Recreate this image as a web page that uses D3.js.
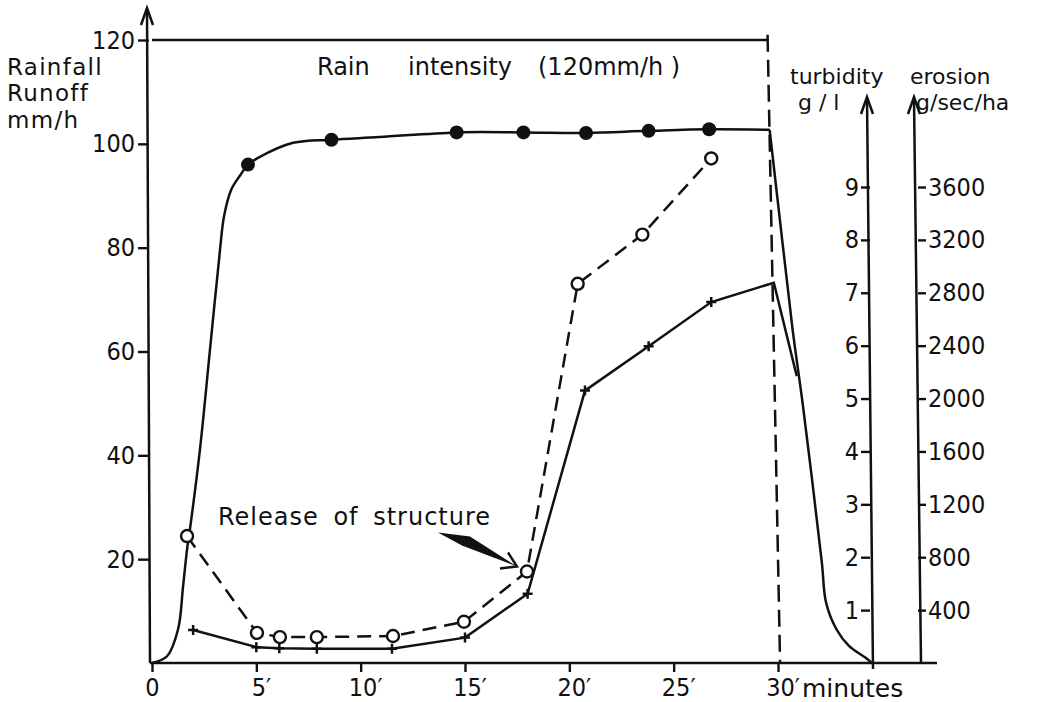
<!DOCTYPE html>
<html>
<head>
<meta charset="utf-8">
<script src="https://cdn.jsdelivr.net/npm/d3@7"></script>
<style>
  body { margin: 0; background: #fff; }
  svg text { font-family: "DejaVu Sans", sans-serif; fill: #111; }
  .tick text { font-family: "DejaVu Sans Condensed", "DejaVu Sans", sans-serif; font-size: 25px; fill: #111; }
  .tick line { stroke: #111; stroke-width: 2.4; }
</style>
</head>
<body>
<svg id="chart"></svg>
<script>
// values (minutes on x)
const rainIntensity = 120;                 // mm/h
const rainTop = [[0, 120], [29.5, 120]];
const rainEdge = [[29.5, 121], [30.1, 0]];

// runoff, mm/h (smooth curve + observed dots); rain stops at the peak point
const runoffCurve = [
  [0, 0], [0.72, 1.3], [1.25, 6.5], [1.49, 14.8], [1.68, 21.9], [1.82, 25.8],
  [2.3, 41.2], [2.78, 60.4], [3.26, 79.6], [3.45, 86], [3.8, 91.2], [4.22, 93.9],
  [4.6, 96], [5.08, 97.3], [6.76, 100.2], [8.6, 100.8], [10.9, 101.3],
  [14.6, 102.2], [17.8, 102.2], [20.8, 102.1], [23.8, 102.5], [26.7, 102.8],
  [29.6, 102.7], [30.2, 81.5], [30.7, 64.2], [31.2, 49.4],
  [32.1, 19.4], [32.3, 11.7], [32.8, 6.5], [33.4, 3.3], [34.2, 1.0], [34.5, 0]
];
const runoffPeakIndex = 22;
const runoffDots = [[4.6, 96], [8.6, 100.8], [14.6, 102.2], [17.8, 102.2], [20.8, 102.1], [23.8, 102.5], [26.7, 102.8]];

// turbidity, g/l (dashed, open circles)
const turbidity = [[1.68, 2.4], [5.03, 0.57], [6.13, 0.49], [7.9, 0.49], [11.55, 0.51],
                   [14.95, 0.78], [17.97, 1.73], [20.4, 7.17], [23.5, 8.1], [26.8, 9.54]];

// erosion, g/sec/ha (solid, crosses); tail points carry no marker
const erosion = [[1.97, 250], [5.0, 120], [6.1, 112], [7.9, 108], [11.5, 108], [15.0, 192],
                 [18.0, 524], [20.75, 2060], [23.8, 2396], [26.8, 2730]];
const erosionTail = [[29.8, 2876], [30.9, 2170]];

const timeTicks = [0, 5, 10, 15, 20, 25, 30];
const mmTicks = [20, 40, 60, 80, 100, 120];
const turbTicks = [1, 2, 3, 4, 5, 6, 7, 8, 9];
const erosTicks = [400, 800, 1200, 1600, 2000, 2400, 2800, 3200, 3600];

const width = 1039, height = 702;
const baseY = 663;
const turbAxisX = 870, erosAxisX = 918;

const svg = d3.select("#chart").attr("width", width).attr("height", height);

const x = d3.scaleLinear().domain([0, 30]).range([152, 778]);
const yL = d3.scaleLinear().domain([0, 120]).range([baseY, 40]);
const yT = d3.scaleLinear().domain([0, 9]).range([baseY, 187]);
const yE = d3.scaleLinear().domain([0, 3600]).range([baseY, 187]);

const ink = "#111";
const sw = 2.5;

function arrowUp(g, tx, ty) {
  g.append("path")
    .attr("d", `M${tx - 6},${ty + 17} L${tx},${ty} L${tx + 6},${ty + 17}`)
    .attr("fill", "none").attr("stroke", ink).attr("stroke-width", sw);
}

// ---- axes ----
const axes = svg.append("g");

// x axis
axes.append("line")
  .attr("x1", x(0) - 2).attr("x2", 937).attr("y1", baseY).attr("y2", baseY)
  .attr("stroke", ink).attr("stroke-width", sw);
const xAxis = axes.append("g")
  .attr("transform", `translate(0,${baseY})`)
  .call(d3.axisBottom(x).tickValues(timeTicks).tickSize(9).tickPadding(6)
    .tickFormat(d => d === 0 ? "0" : d + "′"));
xAxis.select(".domain").remove();
xAxis.selectAll(".tick text").attr("dx", d => d === 0 ? 0 : "0.18em");

// left axis
axes.append("line")
  .attr("x1", x(0) - 2).attr("x2", x(0) - 5).attr("y1", baseY).attr("y2", 9)
  .attr("stroke", ink).attr("stroke-width", sw);
arrowUp(axes, x(0) - 5, 8);
const lAxis = axes.append("g")
  .attr("transform", `translate(${x(0) - 3},0)`)
  .call(d3.axisLeft(yL).tickValues(mmTicks).tickSize(11).tickPadding(3));
lAxis.select(".domain").remove();

// turbidity axis
axes.append("line")
  .attr("x1", turbAxisX + 3).attr("x2", turbAxisX - 3).attr("y1", baseY + 6).attr("y2", 99)
  .attr("stroke", ink).attr("stroke-width", sw);
arrowUp(axes, turbAxisX - 3, 97);
const tAxis = axes.append("g")
  .attr("transform", `translate(${turbAxisX},0)`)
  .call(d3.axisLeft(yT).tickValues(turbTicks).tickSize(9).tickPadding(2));
tAxis.select(".domain").remove();

// erosion axis
axes.append("line")
  .attr("x1", erosAxisX + 3).attr("x2", erosAxisX - 4).attr("y1", baseY).attr("y2", 99)
  .attr("stroke", ink).attr("stroke-width", sw);
arrowUp(axes, erosAxisX - 4, 97);
const eAxis = axes.append("g")
  .attr("transform", `translate(${erosAxisX},0)`)
  .call(d3.axisRight(yE).tickValues(erosTicks).tickSize(8).tickPadding(2).tickFormat(d3.format("d")));
eAxis.select(".domain").remove();

// ---- rainfall ----
const lineL = d3.line().x(d => x(d[0])).y(d => yL(d[1]));
svg.append("path").datum(rainTop).attr("d", lineL)
  .attr("fill", "none").attr("stroke", ink).attr("stroke-width", sw);
svg.append("path").datum(rainEdge).attr("d", lineL)
  .attr("fill", "none").attr("stroke", ink).attr("stroke-width", sw)
  .attr("stroke-dasharray", "17,8");

// ---- runoff ----
const smoothL = d3.line().x(d => x(d[0])).y(d => yL(d[1])).curve(d3.curveCatmullRom.alpha(0.5));
[runoffCurve.slice(0, runoffPeakIndex + 1), runoffCurve.slice(runoffPeakIndex)].forEach(part =>
  svg.append("path").datum(part).attr("d", smoothL)
    .attr("fill", "none").attr("stroke", ink).attr("stroke-width", sw));
svg.append("g").selectAll("circle").data(runoffDots).join("circle")
  .attr("cx", d => x(d[0])).attr("cy", d => yL(d[1])).attr("r", 7).attr("fill", ink);

// ---- erosion ----
const lineE = d3.line().x(d => x(d[0])).y(d => yE(d[1]));
svg.append("path").datum(erosion.concat(erosionTail)).attr("d", lineE)
  .attr("fill", "none").attr("stroke", ink).attr("stroke-width", sw);
svg.append("g").selectAll("path").data(erosion).join("path")
  .attr("d", d => {
    const cx = x(d[0]), cy = yE(d[1]);
    return `M${cx - 5},${cy} H${cx + 5} M${cx},${cy - 5} V${cy + 5}`;
  })
  .attr("stroke", ink).attr("stroke-width", 2.5);

// ---- turbidity ----
const lineT = d3.line().x(d => x(d[0])).y(d => yT(d[1]));
svg.append("path").datum(turbidity).attr("d", lineT)
  .attr("fill", "none").attr("stroke", ink).attr("stroke-width", sw)
  .attr("stroke-dasharray", "14,8");
svg.append("g").selectAll("circle").data(turbidity).join("circle")
  .attr("cx", d => x(d[0])).attr("cy", d => yT(d[1])).attr("r", 6)
  .attr("fill", "#fff").attr("stroke", ink).attr("stroke-width", 2.4);

// ---- annotation ----
const target = turbidity[6];
const tipX = x(target[0]) - 10, tipY = yT(target[1]) - 5;
svg.append("path")
  .attr("d", `M${tipX - 79},${tipY - 34} L${tipX - 47},${tipY - 30} L${tipX},${tipY} L${tipX - 55},${tipY - 21} Z`)
  .attr("fill", ink);
svg.append("path")
  .attr("d", `M${tipX - 17},${tipY + 2} L${tipX},${tipY} L${tipX - 9},${tipY - 14}`)
  .attr("fill", "none").attr("stroke", ink).attr("stroke-width", 2.4);
svg.append("text").attr("x", 218).attr("y", 525)
  .style("font-size", "24px").style("letter-spacing", "1px").style("word-spacing", "6px")
  .text("Release of structure");

// ---- labels ----
const lab = svg.append("g").style("font-size", "23px").style("letter-spacing", "1.3px");
[["Rainfall", 75], ["Runoff", 101], ["mm/h", 128]].forEach(([t, yy]) =>
  lab.append("text").attr("x", 7).attr("y", yy).text(t));

const title = svg.append("g").style("font-size", "24px");
title.append("text").attr("x", 317).attr("y", 75).text("Rain");
title.append("text").attr("x", 408).attr("y", 75).text("intensity");
title.append("text").attr("x", 538).attr("y", 75).text(`(${rainIntensity}mm/h )`);

svg.append("text").attr("x", 802).attr("y", 697).style("font-size", "25px").text("minutes");

const rl = svg.append("g").style("font-size", "22px");
rl.append("text").attr("x", 790).attr("y", 84).text("turbidity");
rl.append("text").attr("x", 798).attr("y", 110).text("g / l");
rl.append("text").attr("x", 910).attr("y", 84).text("erosion");
rl.append("text").attr("x", 916).attr("y", 110).text("g/sec/ha");
</script>
</body>
</html>
